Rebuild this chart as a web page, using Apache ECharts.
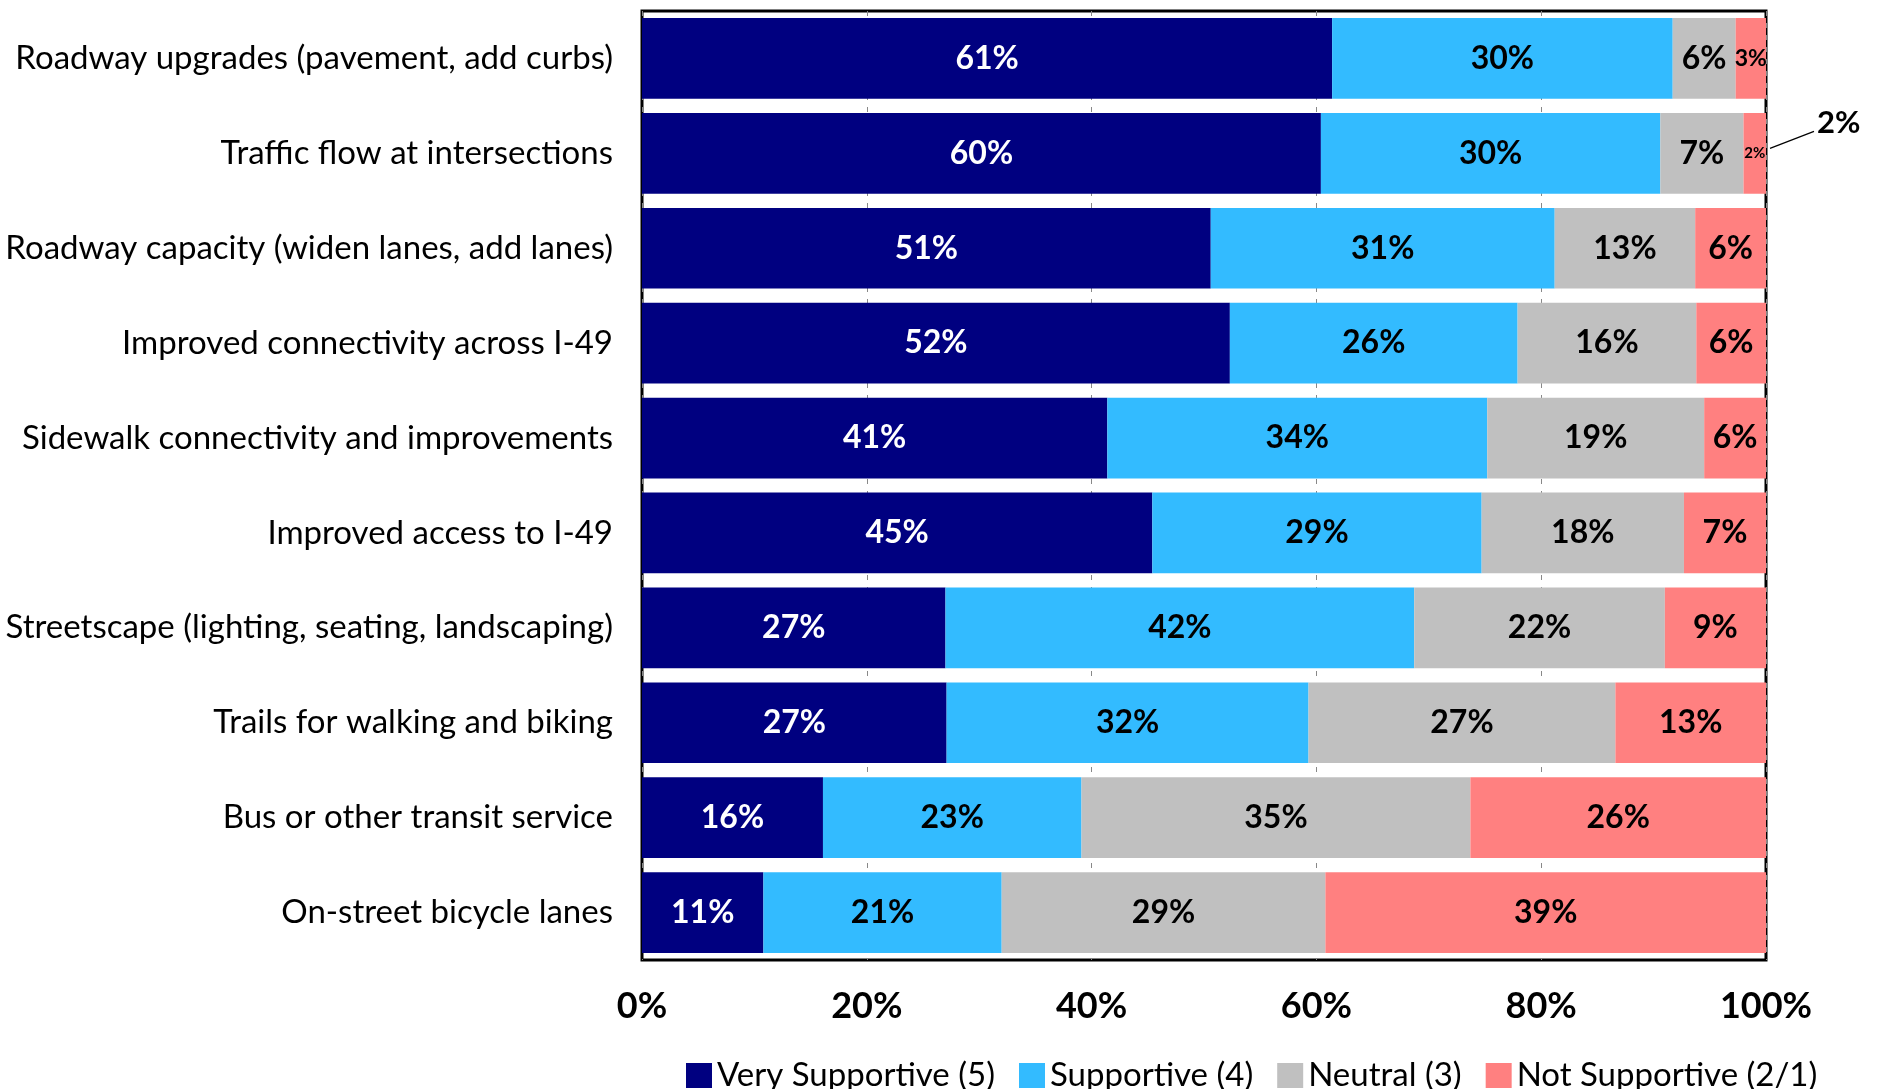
<!DOCTYPE html>
<html>
<head>
<meta charset="utf-8">
<script src="https://cdn.jsdelivr.net/npm/echarts@6/dist/echarts.min.js"></script>
<style>
html,body{margin:0;padding:0;background:#fff;}
#chart{width:1881px;height:1089px;}
</style>
</head>
<body>
<div id="chart"></div>
<script>
const categories = [
  'Roadway upgrades (pavement, add curbs)',
  'Traffic flow at intersections',
  'Roadway capacity (widen lanes, add lanes)',
  'Improved connectivity across I-49',
  'Sidewalk connectivity and improvements',
  'Improved access to I-49',
  'Streetscape (lighting, seating, landscaping)',
  'Trails for walking and biking',
  'Bus or other transit service',
  'On-street bicycle lanes'
];
const verySupportive = [61.4, 60.4, 50.6, 52.3, 41.4, 45.4, 27.0, 27.1, 16.1, 10.8];
const supportive     = [30.3, 30.2, 30.6, 25.6, 33.8, 29.3, 41.7, 32.2, 23.0, 21.2];
const neutral        = [5.6, 7.4, 12.5, 15.9, 19.3, 18.0, 22.3, 27.3, 34.6, 28.8];
const notSupportive  = [2.7, 2.0, 6.3, 6.2, 5.5, 7.3, 9.0, 13.4, 26.3, 39.2];
const seriesNames = ['Very Supportive (5)', 'Supportive (4)', 'Neutral (3)', 'Not Supportive (2/1)'];
const xTicks = [0, 20, 40, 60, 80, 100];
const calloutIndex = 1;

const FONT = 'Lato';
const colors = ['#000080', '#33BBFF', '#C0C0C0', '#FF8080'];
const labelColors = ['#ffffff', '#000000', '#000000', '#000000'];

function makeData(arr, si) {
  return arr.map((v, i) => {
    const item = { value: v };
    if (si === 3 && i === 0) item.label = { fontSize: 23 };
    if (si === 3 && i === calloutIndex) item.label = { fontSize: 15 };
    return item;
  });
}

const allSeries = [verySupportive, supportive, neutral, notSupportive].map((arr, si) => ({
  name: seriesNames[si],
  type: 'bar',
  stack: 'total',
  barCategoryGap: '15%',
  itemStyle: { color: colors[si] },
  label: {
    show: true,
    position: 'inside',
    color: labelColors[si],
    fontFamily: FONT,
    fontWeight: 'bold',
    fontSize: 32,
    formatter: p => Math.round(p.value) + '%'
  },
  data: makeData(arr, si)
}));

const rowTotal = verySupportive[calloutIndex] + supportive[calloutIndex] + neutral[calloutIndex] + notSupportive[calloutIndex];
allSeries.push({
  type: 'custom',
  silent: true,
  clip: false,
  data: [[rowTotal, categories[calloutIndex], notSupportive[calloutIndex]]],
  encode: { x: 0, y: 1 },
  renderItem: function (params, api) {
    const p = api.coord([api.value(0), api.value(1)]);
    return {
      type: 'group',
      children: [
        { type: 'line', shape: { x1: p[0] + 4, y1: p[1] - 5, x2: p[0] + 48, y2: p[1] - 22 },
          style: { stroke: '#000', lineWidth: 1.2 } },
        { type: 'text', style: { x: p[0] + 51, y: p[1] - 30, text: Math.round(api.value(2)) + '%',
          font: 'bold 31px ' + FONT, fill: '#000', textVerticalAlign: 'middle', textAlign: 'left' } }
      ]
    };
  }
});

const chart = echarts.init(document.getElementById('chart'));
chart.setOption({
  animation: false,
  backgroundColor: '#fff',
  grid: { left: 642, right: 115, top: 11, bottom: 129, show: true, borderColor: '#000', borderWidth: 3, backgroundColor: 'transparent' },
  legend: {
    data: seriesNames,
    left: 681, top: 1054,
    itemWidth: 26, itemHeight: 25, itemGap: 24,
    icon: 'rect',
    textStyle: { fontFamily: FONT, fontSize: 33, color: '#000' }
  },
  xAxis: {
    type: 'value', min: 0, max: 100, interval: 20,
    axisLine: { show: false }, axisTick: { show: false },
    splitLine: { show: true, lineStyle: { color: '#888', width: 1, type: [5, 7] } },
    axisLabel: { margin: 28, fontFamily: FONT, fontWeight: 'bold', fontSize: 36, color: '#000',
      formatter: v => xTicks.includes(v) ? v + '%' : '' }
  },
  yAxis: {
    type: 'category', data: categories, inverse: true,
    axisLine: { show: false }, axisTick: { show: false },
    axisLabel: { margin: 29, fontFamily: FONT, fontSize: 33, color: '#000' }
  },
  series: allSeries
});
</script>
</body>
</html>
